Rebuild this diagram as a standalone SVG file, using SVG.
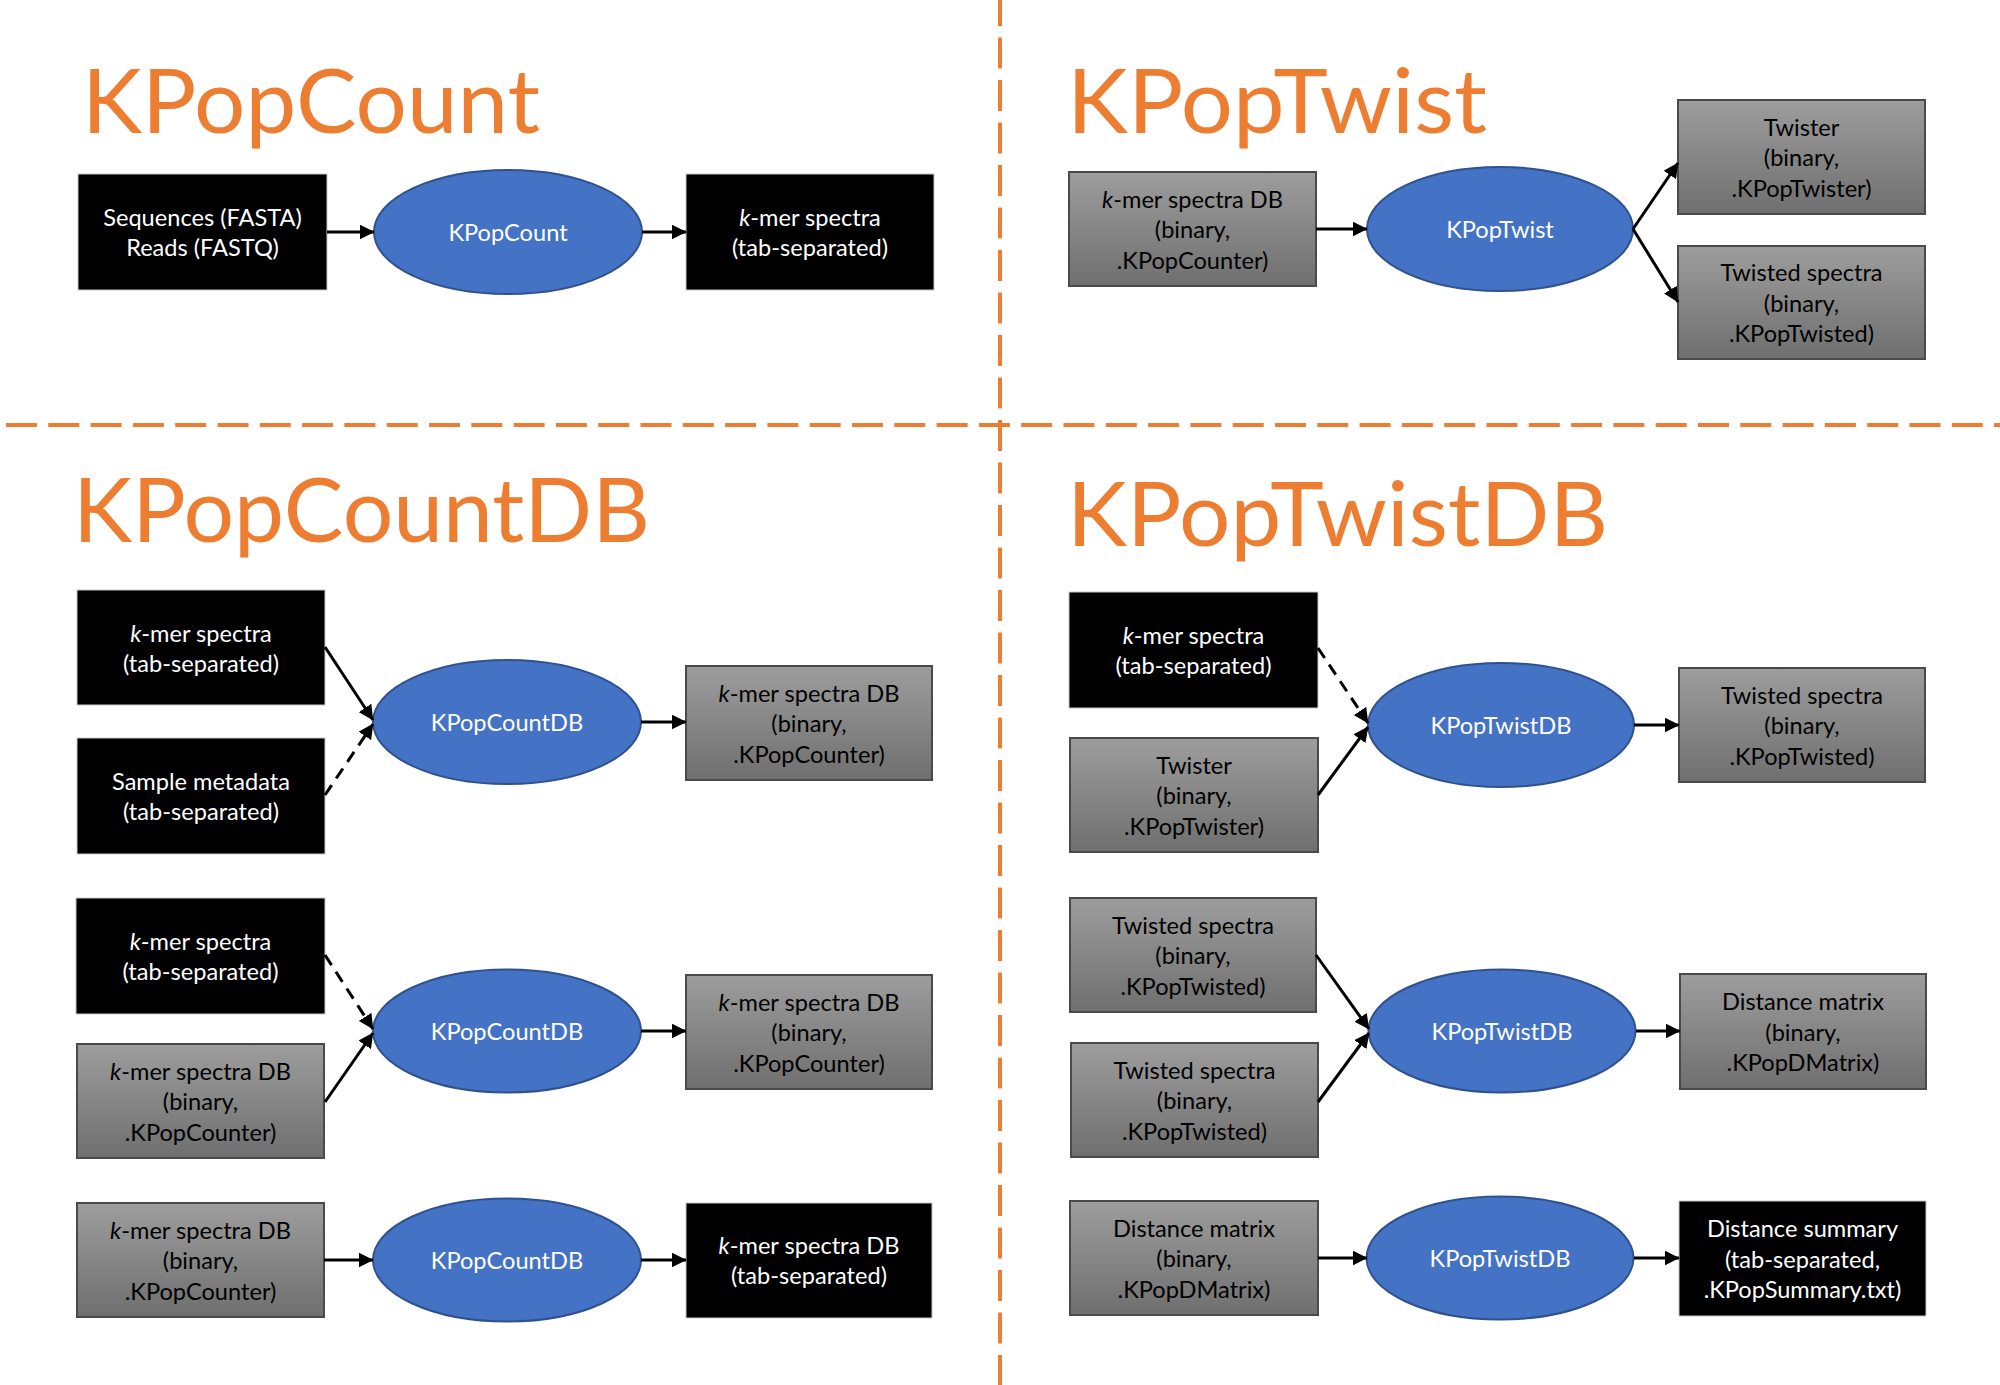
<svg xmlns="http://www.w3.org/2000/svg" width="2000" height="1385" viewBox="0 0 2000 1385">
<defs>
<linearGradient id="gray" x1="0" y1="0" x2="0" y2="1">
<stop offset="0" stop-color="#9d9d9d"/>
<stop offset="1" stop-color="#6f6f6f"/>
</linearGradient>
<marker id="ah" viewBox="0 0 14 14" refX="13.5" refY="7" markerWidth="15" markerHeight="15" markerUnits="userSpaceOnUse" orient="auto">
<path d="M0,0 L14,7 L0,14 z" fill="#000"/>
</marker>
<style>
.title{font-family:Lato,"Liberation Sans",sans-serif;font-size:90px;fill:#ED7D31;}
.t{font-family:Lato,"Liberation Sans",sans-serif;font-size:23.6px;text-anchor:middle;}
.w{fill:#ffffff;}
.d{fill:#000000;}
.blk{fill:#000000;stroke:#c8c8c8;stroke-width:1;}
.gry{fill:url(#gray);stroke:#4a4a4a;stroke-width:2;}
.ell{fill:#4472C4;stroke:#2F528F;stroke-width:2;}
.c{stroke:#000;stroke-width:3;fill:none;marker-end:url(#ah);}
.dash{stroke-dasharray:12 8;}
.div{stroke:#ED7D31;stroke-width:4;fill:none;}
</style>
</defs>

<g id="dividers">
<line class="div" x1="6" y1="425" x2="2000" y2="425" stroke-dasharray="31 11.3"/>
<line class="div" x1="1000" y1="-5" x2="1000" y2="1385" stroke-dasharray="31 11.5"/>
</g>

<g id="titles">
<text class="title" x="82" y="133" textLength="458" lengthAdjust="spacingAndGlyphs">KPopCount</text>
<text class="title" x="1067" y="133" textLength="420" lengthAdjust="spacingAndGlyphs">KPopTwist</text>
<text class="title" x="73" y="542" textLength="577" lengthAdjust="spacingAndGlyphs">KPopCountDB</text>
<text class="title" x="1067" y="546" textLength="541" lengthAdjust="spacingAndGlyphs">KPopTwistDB</text>
</g>

<!-- KPopCount panel -->
<g id="n_seq">
<rect class="blk" x="78" y="174" width="249" height="116"/>
<text class="t w" x="202.5" y="226">Sequences (FASTA)</text>
<text class="t w" x="202.5" y="256">Reads (FASTQ)</text>
</g>
<g id="e_kpopcount">
<ellipse class="ell" cx="508" cy="232" rx="134" ry="62"/>
<text class="t w" x="508" y="241">KPopCount</text>
</g>
<g id="n_kmer_tsv_out">
<rect class="blk" x="686" y="174" width="248" height="116"/>
<text class="t w" x="810" y="226"><tspan font-style="italic">k</tspan>-mer spectra</text>
<text class="t w" x="810" y="256">(tab-separated)</text>
</g>

<!-- KPopTwist panel -->
<g id="n_tw_in">
<rect class="gry" x="1069" y="172" width="247" height="114"/>
<text class="t d" x="1192.5" y="207.5"><tspan font-style="italic">k</tspan>-mer spectra DB</text>
<text class="t d" x="1192.5" y="238">(binary,</text>
<text class="t d" x="1192.5" y="268.5">.KPopCounter)</text>
</g>
<g id="e_kpoptwist">
<ellipse class="ell" cx="1500" cy="229" rx="133" ry="62"/>
<text class="t w" x="1500" y="238">KPopTwist</text>
</g>
<g id="n_twister_out">
<rect class="gry" x="1678" y="100" width="247" height="114"/>
<text class="t d" x="1801.5" y="135.5">Twister</text>
<text class="t d" x="1801.5" y="166">(binary,</text>
<text class="t d" x="1801.5" y="196.5">.KPopTwister)</text>
</g>
<g id="n_twisted_out">
<rect class="gry" x="1678" y="246" width="247" height="113"/>
<text class="t d" x="1801.5" y="281">Twisted spectra</text>
<text class="t d" x="1801.5" y="311.5">(binary,</text>
<text class="t d" x="1801.5" y="342">.KPopTwisted)</text>
</g>

<!-- KPopCountDB panel, row 1 -->
<g id="n_cdb1_kmer">
<rect class="blk" x="77" y="590" width="248" height="115"/>
<text class="t w" x="201" y="641.5"><tspan font-style="italic">k</tspan>-mer spectra</text>
<text class="t w" x="201" y="671.5">(tab-separated)</text>
</g>
<g id="n_cdb1_meta">
<rect class="blk" x="77" y="738" width="248" height="116"/>
<text class="t w" x="201" y="790">Sample metadata</text>
<text class="t w" x="201" y="820">(tab-separated)</text>
</g>
<g id="e_cdb1">
<ellipse class="ell" cx="507" cy="722" rx="134" ry="62"/>
<text class="t w" x="507" y="731">KPopCountDB</text>
</g>
<g id="n_cdb1_out">
<rect class="gry" x="686" y="666" width="246" height="114"/>
<text class="t d" x="809" y="701.5"><tspan font-style="italic">k</tspan>-mer spectra DB</text>
<text class="t d" x="809" y="732">(binary,</text>
<text class="t d" x="809" y="762.5">.KPopCounter)</text>
</g>

<!-- KPopCountDB panel, row 2 -->
<g id="n_cdb2_kmer">
<rect class="blk" x="76" y="898" width="249" height="116"/>
<text class="t w" x="200.5" y="950"><tspan font-style="italic">k</tspan>-mer spectra</text>
<text class="t w" x="200.5" y="980">(tab-separated)</text>
</g>
<g id="n_cdb2_db">
<rect class="gry" x="77" y="1044" width="247" height="114"/>
<text class="t d" x="200.5" y="1079.5"><tspan font-style="italic">k</tspan>-mer spectra DB</text>
<text class="t d" x="200.5" y="1110">(binary,</text>
<text class="t d" x="200.5" y="1140.5">.KPopCounter)</text>
</g>
<g id="e_cdb2">
<ellipse class="ell" cx="507" cy="1031" rx="134" ry="61.5"/>
<text class="t w" x="507" y="1040">KPopCountDB</text>
</g>
<g id="n_cdb2_out">
<rect class="gry" x="686" y="975" width="246" height="114"/>
<text class="t d" x="809" y="1010.5"><tspan font-style="italic">k</tspan>-mer spectra DB</text>
<text class="t d" x="809" y="1041">(binary,</text>
<text class="t d" x="809" y="1071.5">.KPopCounter)</text>
</g>

<!-- KPopCountDB panel, row 3 -->
<g id="n_cdb3_db">
<rect class="gry" x="77" y="1203" width="247" height="114"/>
<text class="t d" x="200.5" y="1238.5"><tspan font-style="italic">k</tspan>-mer spectra DB</text>
<text class="t d" x="200.5" y="1269">(binary,</text>
<text class="t d" x="200.5" y="1299.5">.KPopCounter)</text>
</g>
<g id="e_cdb3">
<ellipse class="ell" cx="507" cy="1260" rx="134" ry="61.5"/>
<text class="t w" x="507" y="1269">KPopCountDB</text>
</g>
<g id="n_cdb3_out">
<rect class="blk" x="686" y="1203" width="246" height="115"/>
<text class="t w" x="809" y="1254"><tspan font-style="italic">k</tspan>-mer spectra DB</text>
<text class="t w" x="809" y="1284">(tab-separated)</text>
</g>

<!-- KPopTwistDB panel, row 1 -->
<g id="n_tdb1_kmer">
<rect class="blk" x="1069" y="592" width="249" height="116"/>
<text class="t w" x="1193.5" y="644"><tspan font-style="italic">k</tspan>-mer spectra</text>
<text class="t w" x="1193.5" y="674">(tab-separated)</text>
</g>
<g id="n_tdb1_twister">
<rect class="gry" x="1070" y="738" width="248" height="114"/>
<text class="t d" x="1194" y="773.5">Twister</text>
<text class="t d" x="1194" y="804">(binary,</text>
<text class="t d" x="1194" y="834.5">.KPopTwister)</text>
</g>
<g id="e_tdb1">
<ellipse class="ell" cx="1501" cy="725" rx="133" ry="62"/>
<text class="t w" x="1501" y="734">KPopTwistDB</text>
</g>
<g id="n_tdb1_out">
<rect class="gry" x="1679" y="668" width="246" height="114"/>
<text class="t d" x="1802" y="703.5">Twisted spectra</text>
<text class="t d" x="1802" y="734">(binary,</text>
<text class="t d" x="1802" y="764.5">.KPopTwisted)</text>
</g>

<!-- KPopTwistDB panel, row 2 -->
<g id="n_tdb2_tw1">
<rect class="gry" x="1070" y="898" width="246" height="114"/>
<text class="t d" x="1193" y="933.5">Twisted spectra</text>
<text class="t d" x="1193" y="964">(binary,</text>
<text class="t d" x="1193" y="994.5">.KPopTwisted)</text>
</g>
<g id="n_tdb2_tw2">
<rect class="gry" x="1071" y="1043" width="247" height="114"/>
<text class="t d" x="1194.5" y="1078.5">Twisted spectra</text>
<text class="t d" x="1194.5" y="1109">(binary,</text>
<text class="t d" x="1194.5" y="1139.5">.KPopTwisted)</text>
</g>
<g id="e_tdb2">
<ellipse class="ell" cx="1502" cy="1031" rx="133.5" ry="61.5"/>
<text class="t w" x="1502" y="1040">KPopTwistDB</text>
</g>
<g id="n_tdb2_out">
<rect class="gry" x="1680" y="974" width="246" height="115"/>
<text class="t d" x="1803" y="1010">Distance matrix</text>
<text class="t d" x="1803" y="1040.5">(binary,</text>
<text class="t d" x="1803" y="1071">.KPopDMatrix)</text>
</g>

<!-- KPopTwistDB panel, row 3 -->
<g id="n_tdb3_dm">
<rect class="gry" x="1070" y="1201" width="248" height="114"/>
<text class="t d" x="1194" y="1236.5">Distance matrix</text>
<text class="t d" x="1194" y="1267">(binary,</text>
<text class="t d" x="1194" y="1297.5">.KPopDMatrix)</text>
</g>
<g id="e_tdb3">
<ellipse class="ell" cx="1500" cy="1258" rx="133.5" ry="61.5"/>
<text class="t w" x="1500" y="1267">KPopTwistDB</text>
</g>
<g id="n_tdb3_out">
<rect class="blk" x="1679" y="1201" width="247" height="115"/>
<text class="t w" x="1802.5" y="1237">Distance summary</text>
<text class="t w" x="1802.5" y="1267.5">(tab-separated,</text>
<text class="t w" x="1802.5" y="1298">.KPopSummary.txt)</text>
</g>

<g id="connectors">
<line class="c" x1="327" y1="232" x2="374" y2="232"/>
<line class="c" x1="642" y1="232" x2="686" y2="232"/>
<line class="c" x1="1316" y1="229" x2="1367" y2="229"/>
<line class="c" x1="1633" y1="229" x2="1678" y2="163"/>
<line class="c" x1="1633" y1="229" x2="1678" y2="302"/>
<line class="c" x1="325" y1="647" x2="373" y2="720"/>
<line class="c dash" x1="325" y1="795" x2="373" y2="724"/>
<line class="c" x1="641" y1="722" x2="686" y2="722"/>
<line class="c dash" x1="325" y1="955" x2="373" y2="1029"/>
<line class="c" x1="325" y1="1102" x2="373" y2="1033"/>
<line class="c" x1="641" y1="1031" x2="686" y2="1031"/>
<line class="c" x1="324" y1="1260" x2="373" y2="1260"/>
<line class="c" x1="641" y1="1260" x2="686" y2="1260"/>
<line class="c dash" x1="1318" y1="648" x2="1368" y2="723"/>
<line class="c" x1="1318" y1="795" x2="1368" y2="727"/>
<line class="c" x1="1634" y1="725" x2="1679" y2="725"/>
<line class="c" x1="1316" y1="955" x2="1369" y2="1029"/>
<line class="c" x1="1318" y1="1102" x2="1369" y2="1033"/>
<line class="c" x1="1636" y1="1031" x2="1680" y2="1031"/>
<line class="c" x1="1318" y1="1258" x2="1367" y2="1258"/>
<line class="c" x1="1634" y1="1258" x2="1679" y2="1258"/>
</g>
</svg>
